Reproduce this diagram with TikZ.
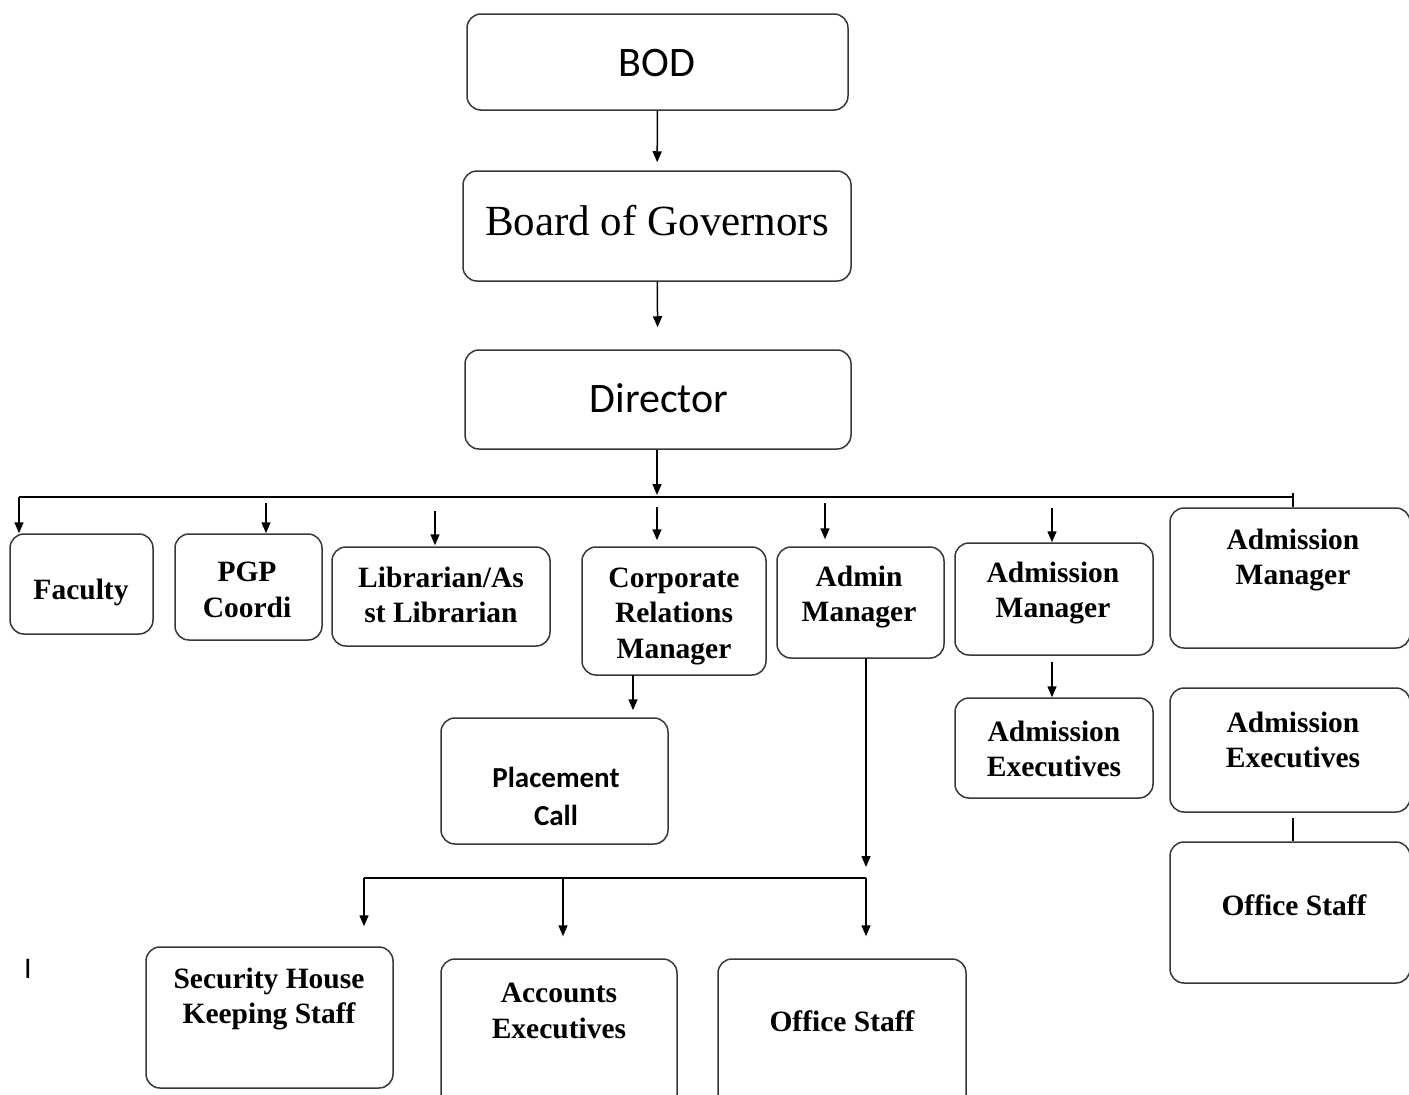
\documentclass[tikz,border=0pt]{standalone}
\usepackage{fontspec}
\usetikzlibrary{arrows.meta}
\newfontfamily\sfcal{Carlito}
\newfontfamily\tnr{Liberation Serif}
\tikzset{
  x=1pt, y=-1pt,
  box/.style={draw=black!78, line width=1.5pt, rounded corners=14pt, inner sep=0pt},
  lbl/.style={align=center, inner sep=0pt, text=black},
  serb/.style={lbl, font=\tnr\bfseries\fontsize{29.5}{35.5}\selectfont},
  conn/.style={draw=black, line width=1.5pt},
  arr/.style={conn, -{Triangle[length=11pt,width=9pt]}},
}
\newcommand\mkbox[5]{\node[box, minimum width={(#4-#2)*1pt}, minimum height={(#5-#3)*1pt}] (#1) at ({(#2+#4)/2},{(#3+#5)/2}) {};}
\begin{document}
\begin{tikzpicture}
\useasboundingbox (0,0) rectangle (1409,1095);
\clip (0,0) rectangle (1409,1095);
\fill[white] (0,0) rectangle (1409,1095);
% boxes
\mkbox{bod}{467}{14}{848}{110}
\mkbox{bog}{463}{171}{851}{281}
\mkbox{dir}{465}{350}{851}{449}
\mkbox{fac}{10}{534}{153}{634}
\mkbox{pgp}{175}{534}{322}{640}
\mkbox{lib}{332}{547}{550}{646}
\mkbox{corp}{582}{547}{766}{675}
\mkbox{adm}{777}{547}{944}{658}
\mkbox{amA}{955}{543}{1153}{655}
\mkbox{amB}{1170}{508}{1410}{648}
\mkbox{pc}{441}{718}{668}{844}
\mkbox{aeA}{955}{698}{1153}{798}
\mkbox{aeB}{1170}{688}{1410}{812}
\mkbox{osB}{1170}{842}{1410}{983}
\mkbox{sec}{146}{947}{393}{1088}
\mkbox{acc}{441}{959}{677}{1112}
\mkbox{osA}{718}{959}{966}{1112}
% texts
\node[lbl, font=\sfcal\fontsize{42}{50}\selectfont] (bodT) at (657,63) {BOD};
\node[lbl, font=\tnr\fontsize{43}{50}\selectfont] (bogT) at (657,221) {Board of Governors};
\node[lbl, font=\sfcal\fontsize{42}{50}\selectfont] (dirT) at (659,398) {Director};
\node[serb] (facT) at (81,592) {Faculty};
\node[serb] (pgpT) at (247,590) {PGP\\Coordi};
\node[serb] (libT) at (441,595) {Librarian/As\\st Librarian};
\node[serb] (corpT) at (674,616) {Corporate\\Relations\\Manager};
\node[serb] (admT) at (859,597) {Admin\\Manager};
\node[serb] (amAT) at (1053,593) {Admission\\Manager};
\node[serb] (amBT) at (1293,560) {Admission\\Manager};
\node[lbl, font=\sfcal\bfseries\fontsize{29}{38}\selectfont] (pcT) at (556,796) {Placement\\Call};
\node[serb] (aeAT) at (1054,749) {Admission\\Executives};
\node[serb] (aeBT) at (1293,740) {Admission\\Executives};
\node[serb] (osBT) at (1294,905) {Office Staff};
\node[serb] (secT) at (269,999) {Security House\\Keeping Staff};
\node[serb] (accT) at (559,1011) {Accounts\\Executives};
\node[serb] (osAT) at (842,1021) {Office Staff};
\node[lbl, font=\sfcal\fontsize{30}{36}\selectfont] (mark) at (28,969) {I};
% connectors
\draw[arr, shorten >=8pt] (bod) -- (bog);
\draw[arr, shorten >=22pt] (bog) -- (dir);
\coordinate (busC) at (657,497);
\coordinate (busL) at (19,497);
\coordinate (busR) at (1293,497);
\draw[arr, shorten >=2pt] (busC |- dir.south) -- (busC);
\draw[conn] (busL) -- (busR);
\coordinate (tickT) at (1293,493);
\draw[conn] (tickT) -- (tickT |- amB.north);
\draw[arr] (busL) -- (busL |- fac.north);
\coordinate (pgpA) at (266,503);
\draw[arr] (pgpA) -- (pgpA |- pgp.north);
\coordinate (libA) at (435,511);
\draw[arr, shorten >=1pt] (libA) -- (libA |- lib.north);
\coordinate (corpA) at (657,507);
\draw[arr, shorten >=6pt] (corpA) -- (corpA |- corp.north);
\coordinate (admA) at (825,503);
\draw[arr, shorten >=7pt] (admA) -- (admA |- adm.north);
\coordinate (amAA) at (1052,508);
\draw[arr] (amAA) -- (amAA |- amA.north);
\coordinate (pcA) at (633,675);
\draw[arr, shorten >=7pt] (pcA) -- (pcA |- pc.north);
\coordinate (aeAA) at (1052,662);
\draw[arr] (aeAA) -- (aeAA |- aeA.north);
\coordinate (osBA) at (1293,818);
\draw[conn] (osBA) -- (osBA |- osB.north);
% admin branch
\coordinate (admD) at (866,658);
\coordinate (bus2R) at (866,878);
\coordinate (bus2L) at (364,878);
\coordinate (bus2M) at (563,878);
\draw[arr, shorten >=11pt] (admD) -- (bus2R);
\draw[conn] (bus2L) -- (bus2R);
\draw[arr, shorten >=20pt] (bus2L) -- (bus2L |- sec.north);
\draw[arr, shorten >=22pt] (bus2M) -- (bus2M |- acc.north);
\draw[arr, shorten >=22pt] (bus2R) -- (bus2R |- osA.north);
\end{tikzpicture}
\end{document}
